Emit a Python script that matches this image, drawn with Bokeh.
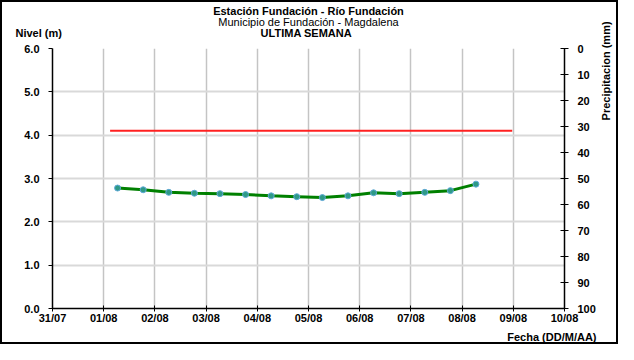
import math
import pandas as pd
from bokeh.plotting import figure
from bokeh.models import (Range1d, LinearAxis, FixedTicker, DatetimeTickFormatter,
                          NumeralTickFormatter, Title)
from bokeh.embed import file_html
from bokeh.resources import INLINE

# ---------------- data ----------------
times = ["2023-08-01 06:30", "2023-08-01 18:30", "2023-08-02 06:30", "2023-08-02 18:30",
         "2023-08-03 06:30", "2023-08-03 18:30", "2023-08-04 06:30", "2023-08-04 18:30",
         "2023-08-05 06:30", "2023-08-05 18:30", "2023-08-06 06:30", "2023-08-06 18:30",
         "2023-08-07 06:30", "2023-08-07 18:30", "2023-08-08 06:30"]
nivel = [2.78, 2.74, 2.68, 2.66, 2.65, 2.63, 2.60, 2.58,
         2.56, 2.60, 2.67, 2.65, 2.68, 2.72, 2.87]
alerta_x = ["2023-08-01 03:00", "2023-08-08 23:30"]
alerta_y = [4.1, 4.1]
day_ticks = ["2023-07-31", "2023-08-01", "2023-08-02", "2023-08-03", "2023-08-04",
             "2023-08-05", "2023-08-06", "2023-08-07", "2023-08-08", "2023-08-09",
             "2023-08-10"]
nivel_ticks = [0, 1, 2, 3, 4, 5, 6]
precip_ticks = [0, 10, 20, 30, 40, 50, 60, 70, 80, 90, 100]

title1 = "Estación Fundación - Río Fundación"
title2 = "Municipio de Fundación - Magdalena"
title3 = "ULTIMA SEMANA"
ylabel_left = "Nivel (m)"
ylabel_right = "Precipitacion (mm)"
xlabel = "Fecha (DD/M/AA)"

NB = "\u00a0"
tx = pd.to_datetime(times)
ax_x = pd.to_datetime(alerta_x)
dt = pd.to_datetime(day_ticks)
tick_ms = [int(d.value // 10**6) for d in dt]

FONT = "Liberation Sans"

p = figure(width=614, height=340, x_axis_type="datetime",
           x_range=Range1d(dt[0], dt[-1]), y_range=Range1d(0, 6),
           output_backend="svg", toolbar_location=None,
           min_border_left=50, min_border_right=54, min_border_top=46,
           min_border_bottom=37)
p.styles = {"border": "2px solid black", "box-sizing": "content-box"}
p.outline_line_color = None
p.background_fill_color = "white"
p.border_fill_color = "white"

p.extra_y_ranges = {"precip": Range1d(100, 0)}

# grids
p.xgrid.ticker = FixedTicker(ticks=tick_ms)
p.xgrid.grid_line_color = "#c4c4c4"
p.xgrid.grid_line_width = 1.5
p.ygrid.ticker = FixedTicker(ticks=nivel_ticks)
p.ygrid.grid_line_color = "#d9d9d9"
p.ygrid.grid_line_width = 2

# x axis
xa = p.xaxis[0]
xa.ticker = FixedTicker(ticks=tick_ms)
xa.formatter = DatetimeTickFormatter(days="%d/%m", months="%d/%m", hours="%d/%m",
                                     years="%d/%m", minutes="%d/%m")
xa.axis_line_color = "black"
xa.axis_line_width = 1.5
xa.major_tick_line_color = "black"
xa.major_tick_in = 3
xa.major_tick_out = 3
xa.minor_tick_line_color = None
xa.major_label_standoff = 0
xa.major_label_text_font = FONT
xa.major_label_text_font_style = "bold"
xa.major_label_text_font_size = "11px"
xa.major_label_text_color = "black"

# left axis
ya = p.yaxis[0]
ya.ticker = FixedTicker(ticks=nivel_ticks)
ya.formatter = NumeralTickFormatter(format="0.0")
ya.axis_line_color = "black"
ya.axis_line_width = 1.5
ya.major_tick_line_color = "black"
ya.major_tick_in = 0
ya.major_tick_out = 4
ya.minor_tick_line_color = None
ya.major_label_standoff = 9
ya.major_label_text_font = FONT
ya.major_label_text_font_style = "bold"
ya.major_label_text_font_size = "11px"
ya.major_label_text_color = "black"

# right axis
ra = LinearAxis(y_range_name="precip", ticker=FixedTicker(ticks=precip_ticks))
ra.axis_line_color = "black"
ra.axis_line_width = 1.5
ra.major_tick_line_color = "black"
ra.major_tick_in = 4
ra.major_tick_out = 4
ra.minor_tick_line_color = None
ra.major_label_standoff = 9
ra.major_label_text_font = FONT
ra.major_label_text_font_style = "bold"
ra.major_label_text_font_size = "11px"
ra.major_label_text_color = "black"
ra.axis_label = NB * 19 + ylabel_right
ra.axis_label_orientation = math.pi / 2
ra.axis_label_standoff = 7
ra.axis_label_text_font = FONT
ra.axis_label_text_font_style = "bold"
ra.axis_label_text_font_size = "11px"
ra.axis_label_text_color = "black"
p.add_layout(ra, "right")

# series
p.line(ax_x, alerta_y, line_color="#ff2020", line_width=2)
p.line(tx, nivel, line_color="#008000", line_width=3)
p.scatter(tx, nivel, size=6, fill_color="#2e9a86", line_color="#5fa8d8", line_width=1)

# titles (first added = nearest to the plot frame)
def ttl(text, side, bold=True, align="center", offset=0, standoff=0):
    t = Title(text=text, align=align, offset=offset, standoff=standoff,
              vertical_align="middle",
              text_font=FONT, text_font_style="bold" if bold else "normal",
              text_font_size="11px", text_color="black")
    p.add_layout(t, side)

ttl(NB, "above", standoff=-4.3)  # spacer row between titles and frame
ttl(ylabel_left + NB * 65 + title3, "above", align="left", offset=-37, standoff=-3.3)
ttl(title2, "above", bold=False, standoff=-3.3)
ttl(title1, "above", standoff=-3.3)
ttl(xlabel, "below", align="right", offset=-32, standoff=6.4)

open("out.html", "w").write(file_html(p, INLINE))
